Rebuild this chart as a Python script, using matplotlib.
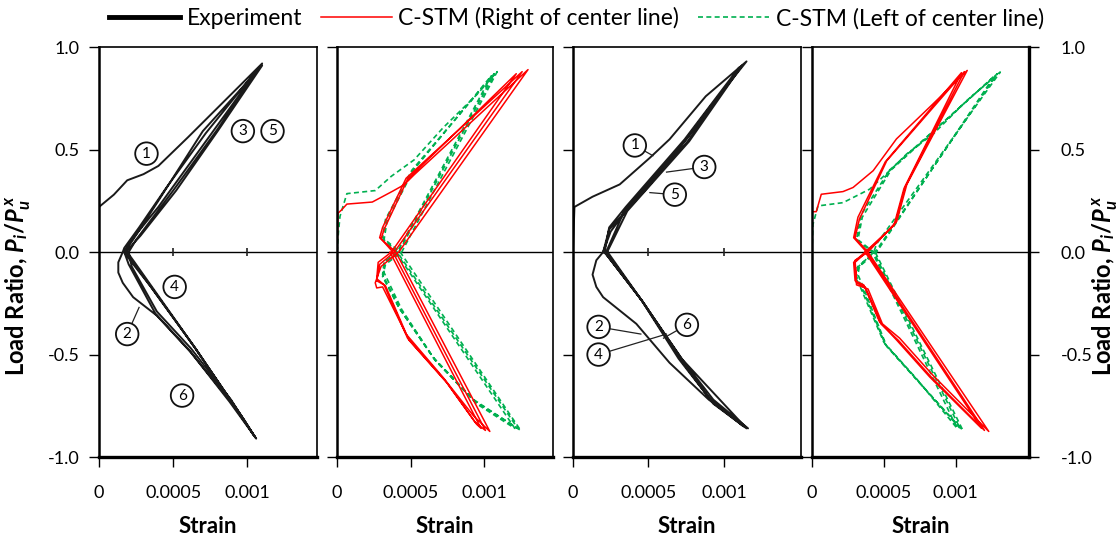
import numpy as np
import matplotlib.pyplot as plt
from matplotlib.lines import Line2D

plt.rcParams['font.family'] = ['Lato', 'DejaVu Sans']
plt.rcParams['axes.unicode_minus'] = False
plt.rcParams['mathtext.fontset'] = 'custom'
plt.rcParams['mathtext.it'] = 'Lato:bold:italic'
plt.rcParams['mathtext.rm'] = 'Lato:bold'

# strain in units of 1e-3, load ratio
# panel 1 - experiment (scan)
exp1 = [(0.00, 0.22), (0.10, 0.28), (0.19, 0.35), (0.30, 0.38), (0.40, 0.42), (0.60, 0.56), (0.85, 0.74), (1.10, 0.92),
        (0.72, 0.58), (0.45, 0.31), (0.27, 0.12), (0.17, 0.02), (0.16, 0.00),
        (0.13, -0.05), (0.13, -0.10), (0.16, -0.15), (0.23, -0.22), (0.39, -0.31), (0.62, -0.49), (0.89, -0.73), (1.05, -0.90),
        (0.98, -0.82), (0.64, -0.46), (0.35, -0.17), (0.22, -0.05), (0.17, 0.00),
        (0.22, 0.06), (0.40, 0.22), (0.77, 0.59), (1.08, 0.90),
        (0.80, 0.60), (0.50, 0.30), (0.25, 0.06), (0.20, 0.00),
        (0.22, -0.07), (0.39, -0.29), (0.62, -0.47), (0.89, -0.72), (1.04, -0.89),
        (0.97, -0.81), (0.65, -0.47), (0.23, -0.05), (0.18, 0.00),
        (0.28, 0.08), (0.52, 0.30), (0.80, 0.59), (1.10, 0.91),
        (0.70, 0.59), (0.40, 0.25), (0.22, 0.05), (0.17, 0.00),
        (0.20, -0.06), (0.38, -0.30), (0.61, -0.48), (0.88, -0.73), (1.06, -0.91),
        (0.66, -0.48), (0.24, -0.05), (0.19, 0.00)]

# panel 3 - experiment (scan)
exp3 = [(0.00, 0.00), (0.01, 0.22), (0.13, 0.27), (0.31, 0.33), (0.51, 0.46), (0.64, 0.55), (0.88, 0.76), (1.15, 0.93),
        (0.90, 0.70), (0.75, 0.55), (0.50, 0.32), (0.35, 0.20), (0.24, 0.11), (0.20, 0.00),
        (0.155, -0.04), (0.13, -0.11), (0.155, -0.17), (0.20, -0.22), (0.42, -0.35), (0.64, -0.54), (0.90, -0.72), (1.16, -0.86),
        (0.93, -0.72), (0.73, -0.53), (0.46, -0.24), (0.22, -0.01), (0.20, 0.00),
        (0.25, 0.10), (0.36, 0.21), (0.76, 0.54), (1.10, 0.90),
        (0.74, 0.55), (0.35, 0.22), (0.24, 0.12), (0.21, 0.00),
        (0.46, -0.24), (0.72, -0.53), (0.92, -0.73), (1.13, -0.85),
        (0.90, -0.71), (0.70, -0.52), (0.45, -0.23), (0.22, -0.01),
        (0.36, 0.20), (0.77, 0.54), (1.12, 0.91),
        (0.75, 0.55), (0.34, 0.20), (0.22, 0.00),
        (0.47, -0.25), (0.73, -0.54), (0.93, -0.74), (1.15, -0.86),
        (0.72, -0.52), (0.45, -0.23), (0.23, 0.00)]

# panel 2 - C-STM
red2 = [(0.00, 0.00), (0.007, 0.19), (0.03, 0.205), (0.067, 0.234), (0.24, 0.244), (0.376, 0.296), (0.456, 0.328), (0.525, 0.377), (1.30, 0.89),
        (0.42, 0.00), (0.30, -0.07), (0.26, -0.15), (0.27, -0.175), (0.31, -0.17), (0.47, -0.40), (0.72, -0.61), (0.93, -0.80), (1.04, -0.875),
        (0.40, 0.00), (0.29, 0.07), (0.31, 0.12), (0.47, 0.36), (1.26, 0.88),
        (0.39, 0.00), (0.29, -0.06), (0.27, -0.14), (0.32, -0.16), (0.48, -0.42), (0.74, -0.63), (0.94, -0.83), (1.01, -0.87),
        (0.38, 0.00), (0.30, 0.065), (0.32, 0.11), (0.48, 0.355), (1.22, 0.87),
        (0.37, 0.00), (0.28, -0.05), (0.27, -0.13), (0.33, -0.165), (0.49, -0.43), (0.75, -0.64), (0.95, -0.84), (0.98, -0.86),
        (0.36, 0.00)]
grn2 = [(0.00, 0.00), (0.01, 0.10), (0.02, 0.174), (0.067, 0.285), (0.26, 0.30), (0.37, 0.37), (0.525, 0.45), (0.72, 0.605), (0.95, 0.767), (1.09, 0.88),
        (0.44, 0.00), (0.33, -0.06), (0.31, -0.12), (0.42, -0.27), (0.65, -0.51), (0.93, -0.72), (1.25, -0.87),
        (0.43, 0.00), (0.31, 0.07), (0.33, 0.16), (0.51, 0.40), (1.07, 0.87),
        (0.42, 0.00), (0.32, -0.05), (0.31, -0.11), (0.43, -0.28), (0.66, -0.52), (0.94, -0.73), (1.23, -0.86),
        (0.41, 0.00), (0.32, 0.06), (0.34, 0.15), (0.52, 0.40), (1.05, 0.86),
        (0.41, 0.00), (0.32, -0.05), (0.32, -0.10), (0.44, -0.28), (0.67, -0.53), (0.95, -0.74), (1.21, -0.86),
        (0.40, 0.00)]

# panel 4 - C-STM
red4 = [(0.00, 0.00), (0.00, 0.197), (0.03, 0.197), (0.065, 0.282), (0.216, 0.295), (0.286, 0.315), (0.426, 0.397), (0.588, 0.552), (0.844, 0.724), (1.08, 0.886),
        (0.66, 0.33), (0.59, 0.15), (0.39, 0.00), (0.30, -0.04), (0.31, -0.16), (0.39, -0.18), (0.49, -0.35), (0.61, -0.42), (0.84, -0.60), (1.23, -0.875),
        (0.39, 0.00), (0.30, 0.07), (0.33, 0.16), (0.52, 0.445), (1.06, 0.88),
        (0.65, 0.32), (0.58, 0.14), (0.38, 0.00), (0.30, -0.05), (0.31, -0.15), (0.37, -0.17), (0.48, -0.35), (0.60, -0.43), (0.83, -0.61), (1.20, -0.87),
        (0.38, 0.00), (0.29, 0.07), (0.32, 0.17), (0.51, 0.44), (1.04, 0.875),
        (0.64, 0.31), (0.57, 0.13), (0.37, 0.00), (0.29, -0.05), (0.30, -0.14), (0.36, -0.16), (0.47, -0.34), (0.59, -0.43), (0.82, -0.61), (1.18, -0.86),
        (0.37, 0.00)]
grn4 = [(0.00, 0.00), (0.007, 0.135), (0.042, 0.225), (0.216, 0.241), (0.402, 0.307), (0.565, 0.413), (0.658, 0.478), (0.844, 0.576), (1.077, 0.739), (1.31, 0.878),
        (0.45, 0.04), (0.43, 0.00), (0.31, -0.08), (0.30, -0.12), (0.33, -0.16), (0.50, -0.44), (0.73, -0.62), (1.01, -0.86),
        (0.42, 0.00), (0.31, 0.06), (0.34, 0.18), (0.54, 0.40), (1.29, 0.87),
        (0.44, 0.00), (0.32, -0.07), (0.31, -0.12), (0.34, -0.16), (0.51, -0.45), (0.74, -0.63), (1.03, -0.86),
        (0.43, 0.00), (0.32, 0.06), (0.35, 0.17), (0.55, 0.40), (1.27, 0.86),
        (0.45, 0.00), (0.33, -0.07), (0.32, -0.11), (0.35, -0.16), (0.52, -0.46), (0.75, -0.64), (1.05, -0.87),
        (0.44, 0.00)]

# circled cycle numbers on the scanned panels: (text, x, y, leader-to x, y or None)
tags1 = [('1', 0.32, 0.48, None), ('3', 0.97, 0.59, None), ('5', 1.17, 0.59, None),
         ('4', 0.51, -0.17, None), ('2', 0.19, -0.40, (0.27, -0.27)), ('6', 0.56, -0.70, None)]
tags3 = [('1', 0.41, 0.52, (0.53, 0.47)), ('3', 0.87, 0.415, (0.62, 0.39)), ('5', 0.675, 0.28, (0.51, 0.29)),
         ('2', 0.17, -0.365, (0.45, -0.40)), ('6', 0.755, -0.355, (0.60, -0.42)), ('4', 0.17, -0.50, (0.62, -0.40))]

xticks = [0, 0.0005, 0.001]
xticklabels = ['0', '0.0005', '0.001']
yticks = [-1.0, -0.5, 0.0, 0.5, 1.0]
yticklabels = ['-1.0', '-0.5', '0.0', '0.5', '1.0']

lefts = [0.0885, 0.3012, 0.512, 0.7256]
widths = [0.1948, 0.193, 0.2037, 0.194]
xmax = [0.00147, 0.00147, 0.00151, 0.00151]

RED = '#ff0000'
GRN = '#00b050'

fig = plt.figure(figsize=(11.19, 5.39), dpi=100)
axes = []
for i in range(4):
    ax = fig.add_axes([lefts[i], 0.152, widths[i], 0.7607])
    ax.set_xlim(0, xmax[i])
    ax.set_ylim(-1, 1)
    ax.set_xticks(xticks)
    ax.set_xticklabels(xticklabels)
    ax.set_yticks(yticks)
    ax.set_yticklabels(yticklabels)
    ax.tick_params(direction='out', length=7, width=1, labelsize=13)
    ax.tick_params(axis='x', pad=13)
    ax.tick_params(axis='y', pad=7)
    if i > 0:
        ax.tick_params(axis='y', labelleft=False)
    for s in ax.spines.values():
        s.set_linewidth(1.2)
    ax.spines['bottom'].set_linewidth(2.4)
    ax.spines['left'].set_linewidth(1.8)
    ax.axhline(0, color='black', lw=1)
    ax.set_xlabel('Strain', fontsize=16, fontweight='bold', labelpad=11)
    axes.append(ax)


def draw(ax, path, **kw):
    a = np.array(path)
    ax.plot(a[:, 0] * 1e-3, a[:, 1], **kw)


def tag(ax, tags):
    for t, x, y, lead in tags:
        if lead is not None:
            ax.plot([x * 1e-3, lead[0] * 1e-3], [y, lead[1]], color='#222222', lw=0.9)
        ax.text(x * 1e-3, y, t, ha='center', va='center', fontsize=11,
                bbox=dict(boxstyle='circle,pad=0.28', fc='white', ec='#111111', lw=1.3))


exp_style = dict(color='#1a1a1a', lw=1.4, solid_joinstyle='round')
red_style = dict(color=RED, lw=1.1)
grn_style = dict(color=GRN, lw=1.2, ls=(0, (3, 2)))

draw(axes[0], exp1, **exp_style)
tag(axes[0], tags1)
draw(axes[2], exp3, **exp_style)
tag(axes[2], tags3)
# scanned zero-axis tick marks
for ax in (axes[0], axes[2]):
    ax.vlines(xticks[1:], -0.02, 0.02, color='#222222', lw=1.2)

draw(axes[1], grn2, **grn_style)
draw(axes[1], red2, **red_style)
draw(axes[3], grn4, **grn_style)
draw(axes[3], red4, **red_style)

ax4 = axes[3]
ax4.tick_params(axis='y', right=True, labelright=True, pad=16)
ax4.spines['right'].set_linewidth(2.4)

ylab = r'Load Ratio, $P_i/P_u^{\,x}$'
fig.text(0.016, 0.47, ylab, rotation=90, ha='center', va='center', fontsize=17, fontweight='bold')
fig.text(0.988, 0.47, ylab, rotation=90, ha='center', va='center', fontsize=17, fontweight='bold')

handles = [Line2D([], [], color='black', lw=3.5),
           Line2D([], [], **red_style),
           Line2D([], [], **grn_style)]
labels = ['Experiment', 'C-STM (Right of center line)', 'C-STM (Left of center line)']
fig.legend(handles, labels, loc='center', bbox_to_anchor=(0.515, 0.966), ncol=3, frameon=False,
           fontsize=16.5, handlelength=3.1, columnspacing=0.8, handletextpad=0.3)

fig.savefig('out.png', dpi=100)
